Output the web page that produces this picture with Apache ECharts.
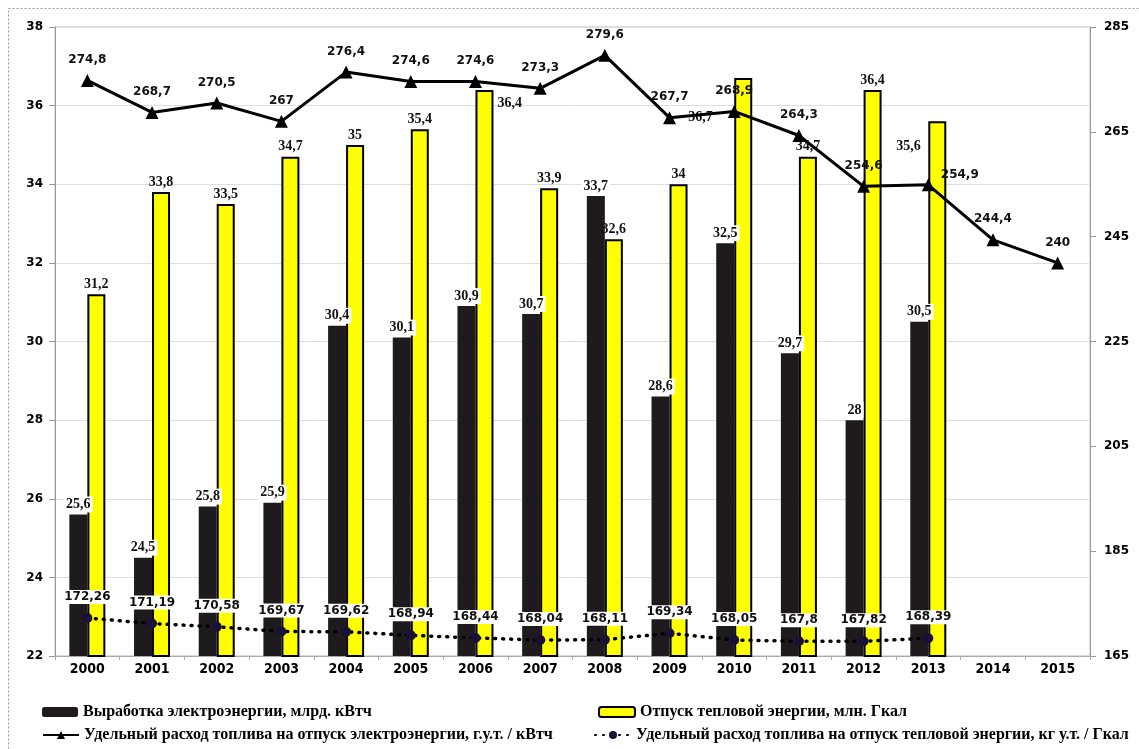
<!DOCTYPE html>
<html>
<head>
<meta charset="utf-8">
<script src="https://cdn.jsdelivr.net/npm/echarts@6/dist/echarts.min.js"></script>
<style>
html,body{margin:0;padding:0;background:#fff;}
#chart{width:1139px;height:749px;}
</style>
</head>
<body>
<div id="chart"></div>
<script>
var years = ['2000','2001','2002','2003','2004','2005','2006','2007','2008','2009','2010','2011','2012','2013','2014','2015'];
var electricity = [25.6, 24.5, 25.8, 25.9, 30.4, 30.1, 30.9, 30.7, 33.7, 28.6, 32.5, 29.7, 28, 30.5, null, null];
var heat = [31.2, 33.8, 33.5, 34.7, 35, 35.4, 36.4, 33.9, 32.6, 34, 36.7, 34.7, 36.4, 35.6, null, null];
var fuelElectricity = [274.8, 268.7, 270.5, 267, 276.4, 274.6, 274.6, 273.3, 279.6, 267.7, 268.9, 264.3, 254.6, 254.9, 244.4, 240];
var fuelHeat = [172.26, 171.19, 170.58, 169.67, 169.62, 168.94, 168.44, 168.04, 168.11, 169.34, 168.05, 167.8, 167.82, 168.39, null, null];
var leftTicks = [22, 24, 26, 28, 30, 32, 34, 36, 38];
var rightTicks = [165, 185, 205, 225, 245, 265, 285];
var seriesNames = [
  'Выработка электроэнергии, млрд. кВтч',
  'Отпуск тепловой энергии, млн. Гкал',
  'Удельный расход топлива на отпуск электроэнергии, г.у.т. / кВтч',
  'Удельный расход топлива на отпуск тепловой энергии, кг у.т. / Гкал'
];

function comma(v){ return String(v).replace('.', ','); }

// label placement overrides (style only, offsets relative to bar top-left)
var heatLabelPos = {6:[22, 6], 10:[-46, 32], 13:[-32, 18]};
var heatData = heat.map(function(v, i){
  if (heatLabelPos[i]) {
    return {value:v, label:{position:heatLabelPos[i], align:'left', verticalAlign:'top'}};
  }
  return v;
});
var fuelLabelPos = {13:'right'};
var fuelElData = fuelElectricity.map(function(v, i){
  if (fuelLabelPos[i]) {
    return {value:v, label:{position:fuelLabelPos[i], distance:6, offset:[0,-10]}};
  }
  return v;
});

var chart = echarts.init(document.getElementById('chart'));
var legendText = {fontFamily: 'Liberation Serif', fontWeight: 'bold', fontSize: 16, color: '#000'};
function legendAt(name, left, top){
  return {data:[name], left:left, top:top, itemWidth:36, itemHeight:10, itemGap:4, textStyle:legendText, padding:0, selectedMode:false};
}

chart.setOption({
  animation:false,
  backgroundColor:'#fff',
  graphic:[{type:'rect', shape:{x:8.5, y:8.5, width:1140, height:760}, style:{fill:'none', stroke:'#999', lineDash:[2,2], lineWidth:1}, silent:true}],
  legend:[
    legendAt(seriesNames[0], 42, 704),
    legendAt(seriesNames[1], 598, 704),
    legendAt(seriesNames[2], 42, 727),
    legendAt(seriesNames[3], 594, 727)
  ],
  grid:{left:55, right:49, top:27, bottom:93, show:true, borderColor:'#bbb', borderWidth:1, containLabel:false},
  xAxis:{
    type:'category', data:years, boundaryGap:true,
    axisLine:{lineStyle:{color:'#aaa'}},
    axisTick:{show:true, length:4, lineStyle:{color:'#aaa'}},
    axisLabel:{fontFamily:'DejaVu Sans Condensed', fontWeight:'bold', fontSize:14, color:'#000', margin:6}
  },
  yAxis:[{
    type:'value', min:22, max:38, interval:2, position:'left',
    axisLine:{show:true, lineStyle:{color:'#999'}},
    axisTick:{show:true, length:6, lineStyle:{color:'#999'}},
    splitLine:{show:true, lineStyle:{color:'#dedede'}},
    axisLabel:{fontFamily:'DejaVu Sans', fontWeight:'bold', fontSize:12, color:'#000', margin:12,
      customValues:leftTicks, formatter:function(v){return comma(v);}}
  },{
    type:'value', min:165, max:285, position:'right',
    axisLine:{show:true, lineStyle:{color:'#999'}},
    axisTick:{show:true, length:6, lineStyle:{color:'#999'}, customValues:rightTicks},
    splitLine:{show:false},
    axisLabel:{fontFamily:'DejaVu Sans', fontWeight:'bold', fontSize:12, color:'#000', margin:14,
      customValues:rightTicks, formatter:function(v){return comma(v);}}
  }],
  series:[{
    name:seriesNames[0], type:'bar', yAxisIndex:0, data:electricity,
    barWidth:18, barGap:'0%',
    itemStyle:{color:'#1e1a1e'},
    label:{show:true, position:'top', distance:2, formatter:function(p){return comma(p.value);},
      fontFamily:'Liberation Serif', fontWeight:'bold', fontSize:14, color:'#111', backgroundColor:'#fff', padding:[1,2]}
  },{
    name:seriesNames[1], type:'bar', yAxisIndex:0, data:heatData,
    barWidth:18, barGap:'0%',
    itemStyle:{color:'#ffff00', borderColor:'#000', borderWidth:2},
    label:{show:true, position:'top', distance:3, formatter:function(p){return comma(p.value);},
      fontFamily:'Liberation Serif', fontWeight:'bold', fontSize:14, color:'#111'}
  },{
    name:seriesNames[2], type:'line', yAxisIndex:1, data:fuelElData,
    symbol:'triangle', symbolSize:13,
    lineStyle:{color:'#000', width:3}, itemStyle:{color:'#000'},
    label:{show:true, position:'top', distance:8, formatter:function(p){return comma(p.value);},
      fontFamily:'DejaVu Sans', fontWeight:'bold', fontSize:12, color:'#111'}
  },{
    name:seriesNames[3], type:'line', yAxisIndex:1, data:fuelHeat,
    symbol:'circle', symbolSize:10,
    lineStyle:{color:'#000', width:3.5, type:[1,7], cap:'round'}, itemStyle:{color:'#1a1038'},
    label:{show:true, position:'top', distance:9, formatter:function(p){return comma(p.value);},
      fontFamily:'DejaVu Sans', fontWeight:'bold', fontSize:12, color:'#111', backgroundColor:'#fff', padding:[1,2]}
  }]
});
</script>
</body>
</html>
